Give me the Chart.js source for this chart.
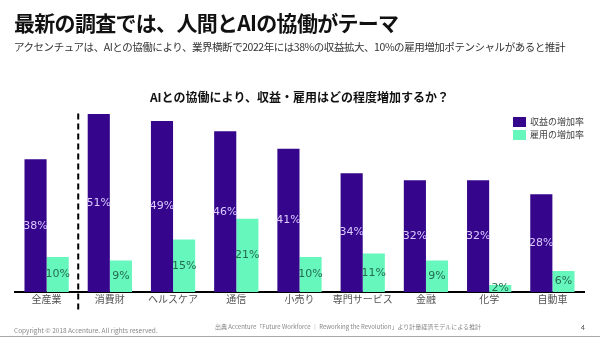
<!DOCTYPE html>
<html>
<head>
<meta charset="utf-8">
<script src="https://cdn.jsdelivr.net/npm/chart.js@4/dist/chart.umd.min.js"></script>
<style>
  body { margin: 0; width: 600px; height: 338px; overflow: hidden; background: #fff;
         font-family: "Noto Sans CJK JP", "Noto Sans", sans-serif; position: relative; }
  #title { position: absolute; left: 14px; top: 7px; font-size: 21px; font-weight: bold; color: #111; letter-spacing: -0.7px; white-space: nowrap; }
  #sub { position: absolute; left: 14px; top: 39px; font-size: 10.5px; color: #333; letter-spacing: -0.45px; white-space: nowrap; }
  #wrap { position: absolute; left: 0; top: 0; width: 600px; height: 338px; }
  #copy { position: absolute; left: 14px; top: 325px; font-size: 6.5px; color: #888; white-space: nowrap; }
  #src { position: absolute; left: 215px; top: 322px; font-size: 6px; color: #888; white-space: nowrap; }
  #page { position: absolute; left: 581px; top: 322px; font-size: 7px; color: #555; }
  #rule { position: absolute; left: 0; top: 336px; width: 600px; height: 1px; background: #aaa; }
</style>
</head>
<body>
<div id="wrap"><canvas id="chart"></canvas></div>
<div id="title">最新の調査では、人間とAIの協働がテーマ</div>
<div id="sub">アクセンチュアは、AIとの協働により、業界横断で2022年には38%の収益拡大、10%の雇用増加ポテンシャルがあると推計</div>
<div id="copy">Copyright © 2018 Accenture. All rights reserved.</div>
<div id="src">出典 Accenture「Future Workforce ｜ Reworking the Revolution」より計量経済モデルによる推計</div>
<div id="page">4</div>
<div id="rule"></div>
<script>
const labels = ['全産業', '消費財', 'ヘルスケア', '通信', '小売り', '専門サービス', '金融', '化学', '自動車'];
const revenue = [38, 51, 49, 46, 41, 34, 32, 32, 28];
const employment = [10, 9, 15, 21, 10, 11, 9, 2, 6];

const purple = '#35068c';
const green = '#66f7bd';

// values inside bars, vertical middle
const barLabels = {
  id: 'barLabels',
  afterDatasetsDraw(chart) {
    const { ctx } = chart;
    ctx.save();
    ctx.font = '11px "DejaVu Sans", sans-serif';
    ctx.textAlign = 'center';
    ctx.textBaseline = 'middle';
    chart.data.datasets.forEach((ds, i) => {
      ctx.fillStyle = i === 0 ? '#dccbff' : '#256b50';
      chart.getDatasetMeta(i).data.forEach((bar, j) => {
        ctx.fillText(ds.data[j] + '%', bar.x, (bar.y + bar.base) / 2);
      });
    });
    ctx.restore();
  },
};

// dashed separator after the first category + custom legend
const extras = {
  id: 'extras',
  afterDraw(chart) {
    const { ctx, chartArea } = chart;
    const x = chart.scales.x;
    const sx = (x.getPixelForValue(0) + x.getPixelForValue(1)) / 2;
    ctx.save();
    ctx.strokeStyle = '#000';
    ctx.lineWidth = 2;
    ctx.setLineDash([6, 4]);
    ctx.beginPath();
    ctx.moveTo(sx, chartArea.top + 3);
    ctx.lineTo(sx, chartArea.bottom + 20);
    ctx.stroke();
    ctx.setLineDash([]);

    ctx.font = '9px "Noto Sans CJK JP", sans-serif';
    ctx.textBaseline = 'middle';
    ctx.textAlign = 'left';
    chart.data.datasets.forEach((ds, i) => {
      const y = 117 + i * 13;
      ctx.fillStyle = ds.backgroundColor;
      ctx.fillRect(513, y, 13, 10);
      ctx.fillStyle = '#444';
      ctx.fillText(ds.label, 530, y + 5);
    });
    ctx.restore();
  },
};

new Chart(document.getElementById('chart'), {
  type: 'bar',
  data: {
    labels,
    datasets: [
      { label: '収益の増加率', data: revenue, backgroundColor: purple },
      { label: '雇用の増加率', data: employment, backgroundColor: green },
    ],
  },
  options: {
    responsive: true,
    maintainAspectRatio: false,
    animation: false,
    layout: { padding: { top: 84, bottom: 32, left: 15, right: 16 } },
    datasets: { bar: { categoryPercentage: 0.7, barPercentage: 1.0 } },
    plugins: {
      legend: { display: false },
      tooltip: { enabled: false },
      title: {
        display: true,
        text: 'AIとの協働により、収益・雇用はどの程度増加するか？',
        font: { size: 12, weight: 'bold', family: '"Noto Sans CJK JP", sans-serif' },
        color: '#111',
        padding: { top: 6, bottom: 6 },
      },
    },
    scales: {
      x: {
        grid: { display: false, drawTicks: false, tickLength: 0 },
        border: { color: '#000', width: 2 },
        ticks: {
          color: '#555', maxRotation: 0, minRotation: 0, autoSkip: false,
          font: { size: 10, family: '"Noto Sans CJK JP", sans-serif' }, padding: 1,
        },
      },
      y: { display: false, min: 0, max: 52 },
    },
  },
  plugins: [barLabels, extras],
});
</script>
</body>
</html>
